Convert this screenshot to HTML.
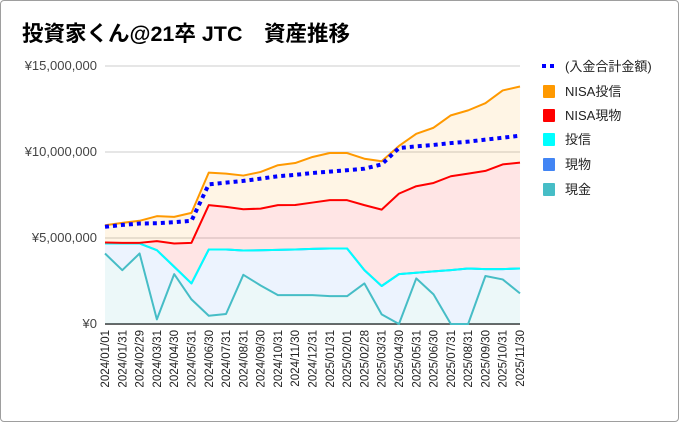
<!DOCTYPE html>
<html><head><meta charset="utf-8"><style>
html,body{margin:0;padding:0;background:#fff}
#wrap{position:relative;width:677px;height:420px;border:1px solid #9e9e9e;border-radius:4px;overflow:hidden;background:#fff}
svg{position:absolute;left:-1px;top:-1px}
text{font-family:"Liberation Sans","Noto Sans CJK JP",sans-serif}
</style></head><body>
<div id="wrap">
<svg id="chart" width="679" height="422">
<text x="22" y="41" font-size="21.5" font-weight="bold" fill="#000">投資家くん@21卒 JTC　資産推移</text>
</svg>
</div>
<script>
const dates=["2024/01/01","2024/01/31","2024/02/29","2024/03/31","2024/04/30","2024/05/31","2024/06/30","2024/07/31","2024/08/31","2024/09/30","2024/10/31","2024/11/30","2024/12/31","2025/01/31","2025/02/01","2025/02/28","2025/03/31","2025/04/30","2025/05/31","2025/06/30","2025/07/31","2025/08/31","2025/09/30","2025/10/31","2025/11/30"];
// values in millions of yen
const cash=[4.10,3.13,4.10,0.27,2.90,1.43,0.48,0.58,2.86,2.24,1.68,1.68,1.68,1.62,1.62,2.36,0.56,0,2.65,1.72,0,0,2.79,2.59,1.78];
const genbutsu=[0.58,1.55,0.58,4.02,0.43,0.93,3.85,3.75,1.41,2.05,2.63,2.65,2.69,2.77,2.77,0.77,1.65,2.90,0.33,1.34,3.13,3.23,0.40,0.60,1.45];
const toushin=[0,0,0,0,0,0,0,0,0,0,0,0,0,0,0,0,0,0,0,0,0,0,0,0,0];
const nisaGenbutsu=[0.06,0.04,0.04,0.53,1.35,2.36,2.58,2.48,2.40,2.42,2.60,2.59,2.69,2.81,2.81,3.78,4.44,4.68,5.03,5.14,5.46,5.51,5.71,6.09,6.15];
const nisaToushin=[1.00,1.16,1.28,1.45,1.55,1.74,1.89,1.93,1.96,2.13,2.32,2.44,2.65,2.74,2.74,2.70,2.81,2.77,3.05,3.21,3.54,3.68,3.94,4.30,4.43];
const deposit=[5.65,5.76,5.84,5.86,5.92,6.00,8.12,8.22,8.32,8.45,8.59,8.67,8.78,8.86,8.94,9.03,9.28,10.23,10.33,10.41,10.52,10.60,10.72,10.83,10.95];
const yTicks=[0,5,10,15];
const yTickLabels=["¥0","¥5,000,000","¥10,000,000","¥15,000,000"];

const NS="http://www.w3.org/2000/svg";
const svg=document.getElementById('chart');
const X0=105,X1=520,Y0=324,Y1=66,YMAX=15;
const xs=i=>X0+(X1-X0)*i/(dates.length-1);
const ys=v=>Y0-(Y0-Y1)*v/YMAX;
function mk(tag,attrs){const e=document.createElementNS(NS,tag);for(const k in attrs)e.setAttribute(k,attrs[k]);svg.appendChild(e);return e;}

yTicks.forEach((t,i)=>{
  const g=mk('line',{x1:X0,x2:X1,y1:ys(t),y2:ys(t),stroke:t===0?'#333':'#ccc','stroke-width':t===0?1.5:1});
  
  
  const tx=mk('text',{x:97,y:ys(t)+4,'text-anchor':'end','font-size':13,fill:'#444'});
  tx.textContent=yTickLabels[i];
  
  
});

const series=[
 {name:'現金',data:cash,color:'#46bdc6'},
 {name:'現物',data:genbutsu,color:'#4285f4'},
 {name:'投信',data:toushin,color:'#00ffff'},
 {name:'NISA現物',data:nisaGenbutsu,color:'#ff0000'},
 {name:'NISA投信',data:nisaToushin,color:'#ff9900'}
];
let base=dates.map(()=>0);
const lines=[];
series.forEach((s,si)=>{
  const top=base.map((b,i)=>b+s.data[i]);
  let d='M'+xs(0)+','+ys(top[0]);
  for(let i=1;i<top.length;i++)d+=' L'+xs(i)+','+ys(top[i]);
  let a=d;
  for(let i=top.length-1;i>=0;i--)a+=' L'+xs(i)+','+ys(base[i]);
  a+=' Z';
  const ar=mk('path',{d:a,fill:s.color,'fill-opacity':0.1,stroke:'none'});
  
  
  lines.push({d,color:s.color,si});
  base=top;
});
lines.forEach(l=>{
  const p=mk('path',{d:l.d,fill:'none',stroke:l.color,'stroke-width':2,'stroke-linejoin':'round'});
  
  
});
let dd='M'+xs(0)+','+ys(deposit[0]);
for(let i=1;i<deposit.length;i++)dd+=' L'+xs(i)+','+ys(deposit[i]);
const dp=mk('path',{d:dd,fill:'none',stroke:'#0000ff','stroke-width':4,'stroke-dasharray':'4 4'});



dates.forEach((dt,i)=>{
  const t=mk('text',{x:0,y:0,'text-anchor':'end','font-size':11.5,fill:'#222',transform:'translate('+(xs(i)+4)+',330) rotate(-90)'});
  t.textContent=dt;
  
  
});

const legend=[{n:'(入金合計金額)',c:'#0000ff',dot:true},{n:'NISA投信',c:'#ff9900'},{n:'NISA現物',c:'#ff0000'},{n:'投信',c:'#00ffff'},{n:'現物',c:'#4285f4'},{n:'現金',c:'#46bdc6'}];
const ly=[66,91,115,139,164,189];
legend.forEach((L,i)=>{
  if(L.dot){
    const ln=mk('line',{x1:542,x2:558,y1:ly[i],y2:ly[i],stroke:L.c,'stroke-width':4,'stroke-dasharray':'4 4'});
    
    
  } else {
    const r=mk('rect',{x:543,y:ly[i]-6,width:12,height:13,fill:L.c,rx:1});
    
    
  }
  const t=mk('text',{x:565,y:ly[i]+5,'font-size':13,fill:'#222'});
  t.textContent=L.n;
  
  
});
</script>
</body></html>
